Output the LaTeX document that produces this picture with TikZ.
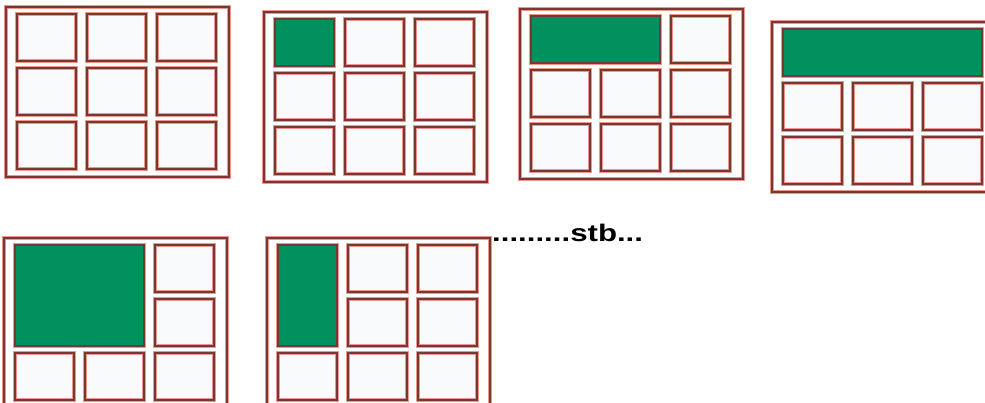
\documentclass[tikz,border=0pt]{standalone}
\usepackage{fontspec}
\setmainfont{Liberation Sans}
\usepackage{graphicx}
\definecolor{brique}{RGB}{118,56,52}
\definecolor{rose}{RGB}{236,150,140}
\definecolor{vert}{RGB}{0,145,95}
\definecolor{fond}{RGB}{248,250,252}

% cadre et 9 cases d'un panneau
\newcommand{\grille}{%
  \draw[cadre] (0,0) rectangle (223,170);
  \foreach \i in {0,1,2}
    \foreach \j in {0,1,2}
      \draw[case] (11+70*\i,7+54*\j) rectangle (70+70*\i,54+54*\j);
}

\begin{document}
\begin{tikzpicture}[x=1pt,y=-1pt,
    cadre/.style={draw=rose, line width=0.8pt, double=brique, double distance=1.8pt, fill=white},
    case/.style={draw=rose, line width=0.45pt, double=brique, double distance=2.4pt, fill=fond},
    bloc/.style={preaction={draw=rose, line width=3.4pt}, draw=brique, line width=2.4pt, fill=vert}]
	\useasboundingbox (0,0) rectangle (985,403);
	\clip (0,0) rectangle (985,403);
	% panneau 1
	\begin{scope}[shift={(6,7)}]
		\grille
	\end{scope}
	% panneau 2
	\begin{scope}[shift={(264,12)}]
		\grille
		\draw[bloc] (11,7) rectangle (70,54);
	\end{scope}
	% panneau 3
	\begin{scope}[shift={(520,9)}]
		\grille
		\draw[bloc] (11,7) rectangle (140,54);
	\end{scope}
	% panneau 4
	\begin{scope}[shift={(772,22)}]
		\grille
		\draw[bloc] (11,7) rectangle (210,54);
	\end{scope}
	% panneau 5
	\begin{scope}[shift={(4,238)}]
		\grille
		\draw[bloc] (11,7) rectangle (140,108);
	\end{scope}
	% panneau 6
	\begin{scope}[shift={(267,238)}]
		\grille
		\draw[bloc] (11,7) rectangle (70,108);
	\end{scope}
	% texte
	\node[anchor=base west, inner sep=0pt, font=\bfseries\fontsize{24}{28}\selectfont] (legende) at (492,242) {\scalebox{1.3}[1]{.........stb...}};
\end{tikzpicture}
\end{document}
